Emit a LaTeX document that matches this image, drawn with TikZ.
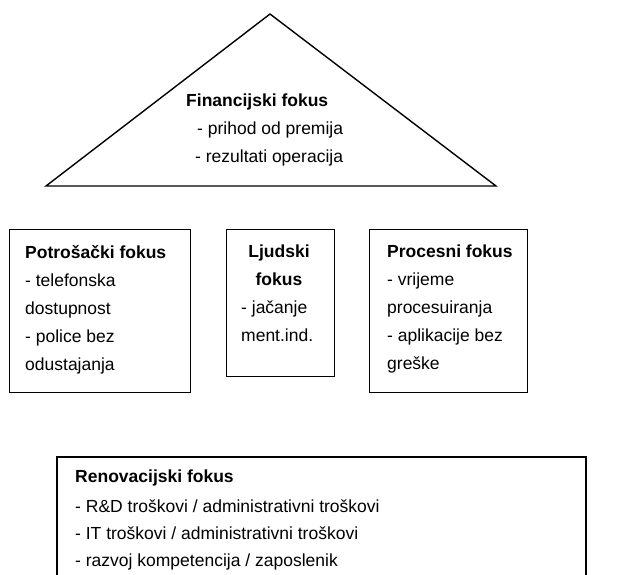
\documentclass[tikz,border=0pt]{standalone}
\usepackage{fontspec}
\setmainfont{Liberation Sans}
\tikzset{
  frame/.style={draw=black, line width=1.4pt},
  txt/.style={inner sep=0pt, align=left, anchor=north west,
    font=\fontsize{17.5}{28}\selectfont},
  ctxt/.style={inner sep=0pt, align=center, anchor=north,
    font=\fontsize{17.5}{28}\selectfont}
}
\begin{document}
\begin{tikzpicture}[x=1pt, y=-1pt]
  \useasboundingbox (0,0) rectangle (627,574);

  % roof: financial focus
  \coordinate (roofL) at (46,186);
  \coordinate (roofR) at (496,186);
  \coordinate (roofT) at (270,14);
  \draw[frame, line join=miter] (roofL) -- (roofT) -- (roofR) -- cycle;
  \node[txt] (fin) at (186,94) {\textbf{Financijski fokus}\\
    \hspace*{11pt}- prihod od premija\\
    \hspace*{9pt}- rezultati operacija};

  % three pillars
  \node[frame, minimum width=181pt, minimum height=163pt, anchor=north west,
    inner sep=0pt] (cust) at (9,229) {};
  \node[txt] (custT) at (25,245) {\textbf{Potrošački fokus}\\- telefonska\\
    dostupnost\\- police bez\\odustajanja};

  \node[frame, minimum width=108pt, minimum height=147pt, anchor=north west,
    inner sep=0pt] (ppl) at (226,229) {};
  \node[ctxt] (pplT) at (279,245) {\textbf{Ljudski}\\\textbf{fokus}};
  \node[txt] (pplB) at (241,301) {- jačanje\\ment.ind.};

  \node[frame, minimum width=158pt, minimum height=163pt, anchor=north west,
    inner sep=0pt] (proc) at (369,229) {};
  \node[txt] (procT) at (387,245) {\textbf{Procesni fokus}\\- vrijeme\\
    procesuiranja\\- aplikacije bez\\greške};

  % foundation: renovation focus (open at the bottom)
  \coordinate (bL) at (57,580);
  \coordinate (bTL) at (57,457);
  \coordinate (bTR) at (586,457);
  \coordinate (bR) at (586,580);
  \draw[frame] (bL) -- (bTL) -- (bTR) -- (bR);
  \node[txt] (renT) at (75,470) {\textbf{Renovacijski fokus}};
  \node[txt, font=\fontsize{17.5}{27}\selectfont] (renL) at (75,500)
    {- R\&D troškovi / administrativni troškovi\\
    - IT troškovi / administrativni troškovi\\
    - razvoj kompetencija / zaposlenik};
\end{tikzpicture}
\end{document}
